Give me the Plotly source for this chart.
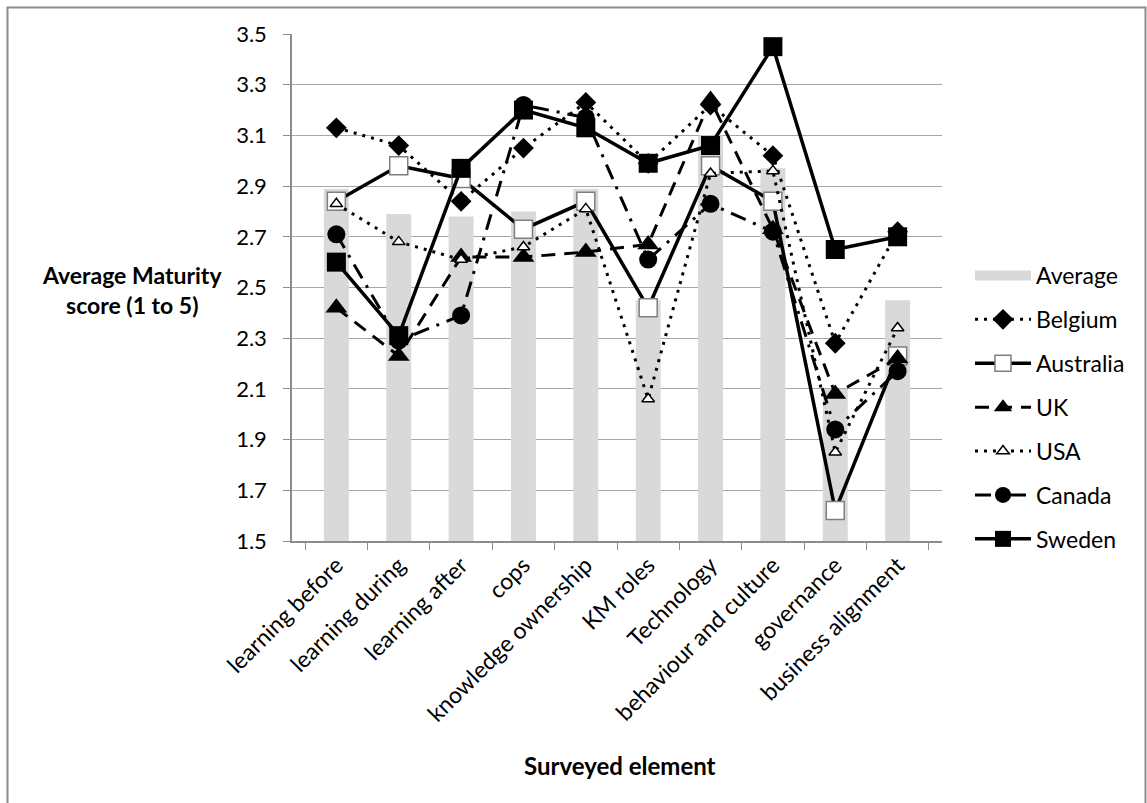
import plotly.graph_objects as go

# Surveyed elements on the category axis
categories = [
    "learning before", "learning during", "learning after", "cops",
    "knowledge ownership", "KM roles", "Technology",
    "behaviour and culture", "governance", "business alignment",
]

# Average maturity score per element (bars)
average = [2.89, 2.79, 2.78, 2.80, 2.89, 2.45, 3.10, 2.97, 2.10, 2.45]

# Country scores per element (lines)
belgium = [3.13, 3.06, 2.84, 3.05, 3.23, 2.99, 3.22, 3.02, 2.28, 2.72]
australia = [2.84, 2.98, 2.93, 2.73, 2.84, 2.42, 2.98, 2.84, 1.62, 2.23]
uk = [2.42, 2.23, 2.62, 2.62, 2.64, 2.67, 3.24, 2.73, 2.08, 2.22]
usa = [2.83, 2.68, 2.61, 2.66, 2.81, 2.06, 2.95, 2.96, 1.85, 2.34]
canada = [2.71, 2.29, 2.39, 3.22, 3.17, 2.61, 2.83, 2.72, 1.94, 2.17]
sweden = [2.60, 2.31, 2.97, 3.20, 3.13, 2.99, 3.06, 3.45, 2.65, 2.70]

y_ticks = [1.5, 1.7, 1.9, 2.1, 2.3, 2.5, 2.7, 2.9, 3.1, 3.3, 3.5]

FONT = "Lato"
W, H = 1147, 803
L, R, T, B = 292, 205, 34, 262
BAR_GREY = "#d9d9d9"

fig = go.Figure()

# bars carry the data; a wide grey line stands in for them in the legend
fig.add_trace(go.Bar(
    x=categories, y=average, name="Average",
    marker=dict(color=BAR_GREY, line=dict(width=0)),
    width=0.4, showlegend=False,
))
fig.add_trace(go.Scatter(
    x=[None], y=[None], name="Average", mode="lines",
    line=dict(color=BAR_GREY, width=15), legendgroup="g0",
))

line_specs = [
    ("Belgium", belgium, dict(width=3, dash="3px,6px"),
     dict(symbol="diamond", size=16, color="black")),
    ("Australia", australia, dict(width=3.5, dash="solid"),
     dict(symbol="square", size=18, color="white", line=dict(color="#7f7f7f", width=1.5))),
    ("UK", uk, dict(width=3, dash="14px,9px"),
     dict(symbol="triangle-up", size=19, color="black")),
    ("USA", usa, dict(width=3, dash="3px,6px"),
     dict(symbol="triangle-up", size=11, color="white", line=dict(color="black", width=1.5))),
    ("Canada", canada, dict(width=3, dash="16px,8px,3px,8px"),
     dict(symbol="circle", size=18, color="black")),
    ("Sweden", sweden, dict(width=3.5, dash="solid"),
     dict(symbol="square", size=19, color="black")),
]

for i, (name, vals, ln, mk) in enumerate(line_specs, start=1):
    fig.add_trace(go.Scatter(
        x=categories, y=vals, name=name, mode="lines+markers",
        line=dict(color="black", **ln), marker=mk,
        legendgroup=f"g{i}",
    ))


def px_to_paper_x(px):
    return (px - L) / (W - L - R)


def px_to_paper_y(py):
    return (H - B - py) / (H - T - B)


# outer frame around the whole chart
fig.add_shape(
    type="rect", xref="paper", yref="paper",
    x0=px_to_paper_x(7.5), x1=px_to_paper_x(1145.5),
    y0=px_to_paper_y(815), y1=px_to_paper_y(7.5),
    line=dict(color="#8c8c8c", width=2), fillcolor="rgba(0,0,0,0)",
    layer="below",
)

# axis titles
fig.add_annotation(
    text="<b>Average Maturity<br>score (1 to 5)</b>",
    xref="paper", yref="paper",
    x=px_to_paper_x(132), y=px_to_paper_y(290),
    xanchor="center", yanchor="middle",
    showarrow=False, align="center",
    font=dict(family=FONT, size=23, color="black"),
)
fig.add_annotation(
    text="<b>Surveyed element</b>",
    xref="paper", yref="paper",
    x=px_to_paper_x(620), y=px_to_paper_y(765),
    xanchor="center", yanchor="middle",
    showarrow=False,
    font=dict(family=FONT, size=24, color="black"),
)

fig.update_layout(
    width=W, height=H,
    margin=dict(l=L, r=R, t=T, b=B),
    paper_bgcolor="white", plot_bgcolor="white",
    font=dict(family=FONT, size=19, color="black"),
    showlegend=True,
    legend=dict(
        x=px_to_paper_x(970), y=px_to_paper_y(254),
        xanchor="left", yanchor="top",
        font=dict(family=FONT, size=23, color="black"),
        tracegroupgap=11, itemwidth=56,
        bgcolor="rgba(0,0,0,0)",
    ),
    bargap=0.6,
)

fig.update_xaxes(
    type="category", tickangle=-45,
    showline=True, linecolor="#8c8c8c", linewidth=1.5,
    ticks="outside", tickson="boundaries", ticklen=7, tickcolor="#8c8c8c",
    showgrid=False,
    tickfont=dict(family=FONT, size=23, color="black"),
)

fig.update_yaxes(
    range=[1.5, 3.5], tickvals=y_ticks, ticktext=[f"{v:.1f}" for v in y_ticks],
    showline=True, linecolor="#8c8c8c", linewidth=1.5,
    ticks="outside", ticklen=7, tickcolor="#8c8c8c",
    ticklabelstandoff=12,
    showgrid=True, gridcolor="#a6a6a6", gridwidth=1.2,
    zeroline=False,
    tickfont=dict(family=FONT, size=22, color="black"),
)

fig.write_html("out.html")
